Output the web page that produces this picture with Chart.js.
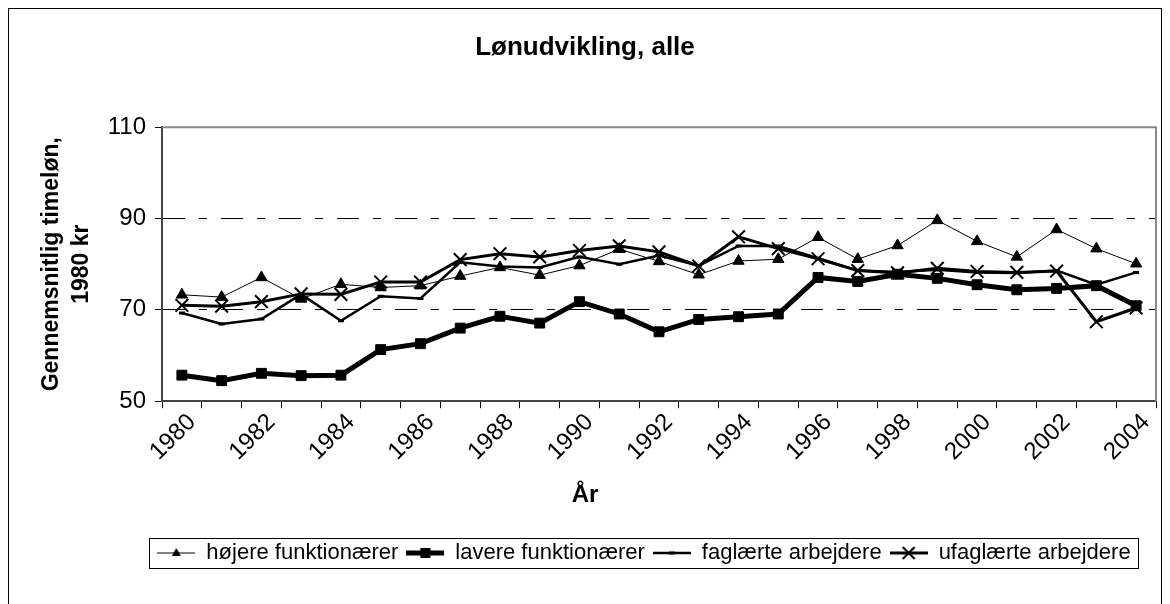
<!DOCTYPE html>
<html>
<head>
<meta charset="utf-8">
<script src="https://cdn.jsdelivr.net/npm/chart.js@4"></script>
<style>
  html, body { margin: 0; padding: 0; background: #fff; }
  #wrap { width: 1170px; height: 604px; }
</style>
</head>
<body>
<div id="wrap"><canvas id="chart" width="1170" height="604"></canvas></div>
<script>
// data
const years = ['1980','1981','1982','1983','1984','1985','1986','1987','1988','1989','1990','1991','1992',
               '1993','1994','1995','1996','1997','1998','1999','2000','2001','2002','2003','2004'];
const hojere = [73.3, 72.8, 77.1, 72.4, 75.6, 74.9, 75.3, 77.4, 79.3, 77.6, 79.7, 83.3, 80.6,
                77.7, 80.7, 81.1, 85.9, 81.1, 84.1, 89.6, 85.0, 81.6, 87.6, 83.4, 80.1];
const lavere = [55.7, 54.5, 56.1, 55.6, 55.7, 61.3, 62.6, 66.0, 68.6, 67.1, 71.8, 69.1, 65.2,
                67.9, 68.5, 69.1, 77.1, 76.2, 77.8, 76.9, 75.5, 74.4, 74.7, 75.3, 70.9];
const faglaerte = [69.3, 66.9, 68.0, 73.4, 67.6, 73.0, 72.5, 80.4, 79.5, 79.3, 81.6, 80.0, 81.9,
                   79.7, 84.0, 84.0, 81.3, 78.6, 78.3, 78.8, 78.2, 78.1, 78.6, 75.5, 78.2];
const ufaglaerte = [71.0, 70.8, 71.8, 73.5, 73.4, 76.1, 76.1, 81.0, 82.3, 81.6, 83.0, 84.0, 82.7,
                    79.6, 86.0, 83.4, 81.2, 78.6, 78.1, 79.1, 78.4, 78.2, 78.5, 67.4, 70.4];
const yTicks = [50, 70, 90, 110];
const xTickLabels = ['1980','1982','1984','1986','1988','1990','1992','1994','1996','1998','2000','2002','2004'];

const FONT = "'Liberation Sans', Arial, sans-serif";

// little line+marker pictures for the legend
function legendSymbol(lineW, marker) {
  const c = document.createElement('canvas');
  c.width = 38; c.height = 20;
  const g = c.getContext('2d');
  g.strokeStyle = '#000'; g.fillStyle = '#000';
  g.lineWidth = lineW;
  g.beginPath(); g.moveTo(0, 10); g.lineTo(38, 10); g.stroke();
  g.lineWidth = 2;
  if (marker === 'triangle') {
    g.beginPath(); g.moveTo(19, 5); g.lineTo(23.5, 13); g.lineTo(14.5, 13); g.closePath(); g.fill();
  } else if (marker === 'rect') {
    g.fillRect(14, 5, 10, 10);
  } else if (marker === 'line') {
    g.lineWidth = 3;
    g.beginPath(); g.moveTo(16, 10); g.lineTo(22, 10); g.stroke();
  } else if (marker === 'cross') {
    g.beginPath(); g.moveTo(13, 4); g.lineTo(25, 16); g.moveTo(25, 4); g.lineTo(13, 16); g.stroke();
  }
  return c;
}

const frame = {
  id: 'frame',
  afterLayout(chart) {
    // legend sits a bit right of the middle, titles just about centred on the page
    const lg = chart.legend;
    lg.left += 66; lg.right += 66;
    for (const b of [chart.titleBlock, chart.options.plugins.subtitle && chart.boxes.find(x => x.options && x.options.text === 'År')]) {
      if (b) { b.left += 7; b.right += 7; }
    }
  },
  beforeDraw(chart) {
    const ctx = chart.ctx;
    ctx.save();
    ctx.fillStyle = '#fff';
    ctx.fillRect(0, 0, chart.width, chart.height);
    ctx.restore();
  },
  afterDraw(chart) {
    const ctx = chart.ctx;
    const a = chart.chartArea;
    ctx.save();
    // plot area top / right edge
    ctx.strokeStyle = '#888';
    ctx.lineWidth = 2;
    ctx.beginPath();
    ctx.moveTo(a.left, a.top); ctx.lineTo(a.right, a.top); ctx.lineTo(a.right, a.bottom);
    ctx.stroke();
    // outer border
    ctx.strokeStyle = '#000';
    ctx.lineWidth = 1;
    ctx.strokeRect(8.5, 8.5, 1153, 640);
    // legend box
    const hb = chart.legend.legendHitBoxes;
    if (hb && hb.length) {
      const l = hb[0].left - 8;
      const r = hb[hb.length - 1].left + hb[hb.length - 1].width + 8;
      const t = hb[0].top - 4;
      const b = hb[0].top + hb[0].height + 4;
      ctx.strokeRect(Math.round(l) + 0.5, Math.round(t) + 0.5, Math.round(r - l), Math.round(b - t));
    }
    ctx.restore();
  }
};

new Chart(document.getElementById('chart').getContext('2d'), {
  type: 'line',
  data: {
    labels: years,
    datasets: [
      {
        label: 'højere funktionærer', data: hojere,
        borderColor: '#000', backgroundColor: '#000', borderWidth: 1,
        pointStyle: 'triangle', pointRadius: 6.5, pointBorderWidth: 1,
        legendSymbol: legendSymbol(1, 'triangle')
      },
      {
        label: 'lavere funktionærer', data: lavere,
        borderColor: '#000', backgroundColor: '#000', borderWidth: 5,
        pointStyle: 'rect', pointRadius: 7, pointBorderWidth: 1,
        legendSymbol: legendSymbol(5, 'rect')
      },
      {
        label: 'faglærte arbejdere', data: faglaerte,
        borderColor: '#000', backgroundColor: '#000', borderWidth: 2.5,
        pointStyle: 'line', pointRadius: 3, pointBorderWidth: 3,
        legendSymbol: legendSymbol(2.5, 'line')
      },
      {
        label: 'ufaglærte arbejdere', data: ufaglaerte,
        borderColor: '#000', backgroundColor: '#000', borderWidth: 3,
        pointStyle: 'crossRot', pointRadius: 9, pointBorderWidth: 2,
        legendSymbol: legendSymbol(3, 'cross')
      }
    ]
  },
  options: {
    responsive: false,
    animation: false,
    layout: { padding: { left: 0, right: 14, top: 0, bottom: 30 } },
    elements: { line: { tension: 0 } },
    plugins: {
      title: {
        display: true, text: 'Lønudvikling, alle', color: '#000',
        font: { family: FONT, size: 26, weight: 'bold' },
        padding: { top: 32, bottom: 64 }
      },
      subtitle: {
        display: true, text: 'År', position: 'bottom', color: '#000',
        font: { family: FONT, size: 24, weight: 'bold' },
        padding: { top: 4, bottom: 24 }
      },
      legend: {
        position: 'bottom', weight: 2000,
        labels: {
          color: '#000', font: { family: FONT, size: 22 },
          usePointStyle: true, pointStyleWidth: 38, padding: 8,
          generateLabels(chart) {
            return chart.data.datasets.map((ds, i) => ({
              text: ds.label, pointStyle: ds.legendSymbol, fontColor: '#000',
              fillStyle: '#000', strokeStyle: '#000', lineWidth: 0, datasetIndex: i, hidden: false
            }));
          }
        }
      },
      tooltip: { enabled: false }
    },
    scales: {
      x: {
        type: 'category', offset: true,
        grid: { display: true, offset: true, drawOnChartArea: false, drawTicks: true, tickLength: 7, color: '#000' },
        border: { display: true, color: '#444', width: 2 },
        ticks: {
          autoSkip: false, maxRotation: 45, minRotation: 45, padding: 0, labelOffset: 10, color: '#000',
          font: { family: FONT, size: 24 },
          callback(v, i) { const y = years[i]; return xTickLabels.includes(y) ? y : ''; }
        },
        afterFit(s) { s.height = 76; }
      },
      y: {
        min: 50, max: 110,
        afterBuildTicks(s) { s.ticks = yTicks.map(v => ({ value: v })); },
        grid: { color: '#000', lineWidth: 1, tickLength: 7, drawTicks: true },
        border: { display: true, color: '#444', width: 2, dash: [22, 14, 8, 14] },
        ticks: { color: '#000', padding: 9, font: { family: FONT, size: 24 } },
        title: {
          display: true, text: ['Gennemsnitlig timeløn,', '1980 kr'], color: '#000',
          font: { family: FONT, size: 23, weight: 'bold', lineHeight: 1.3 },
          padding: { top: 37, bottom: 0 }
        },
        afterFit(s) { s.width = 162; }
      }
    }
  },
  plugins: [frame]
});
</script>
</body>
</html>
